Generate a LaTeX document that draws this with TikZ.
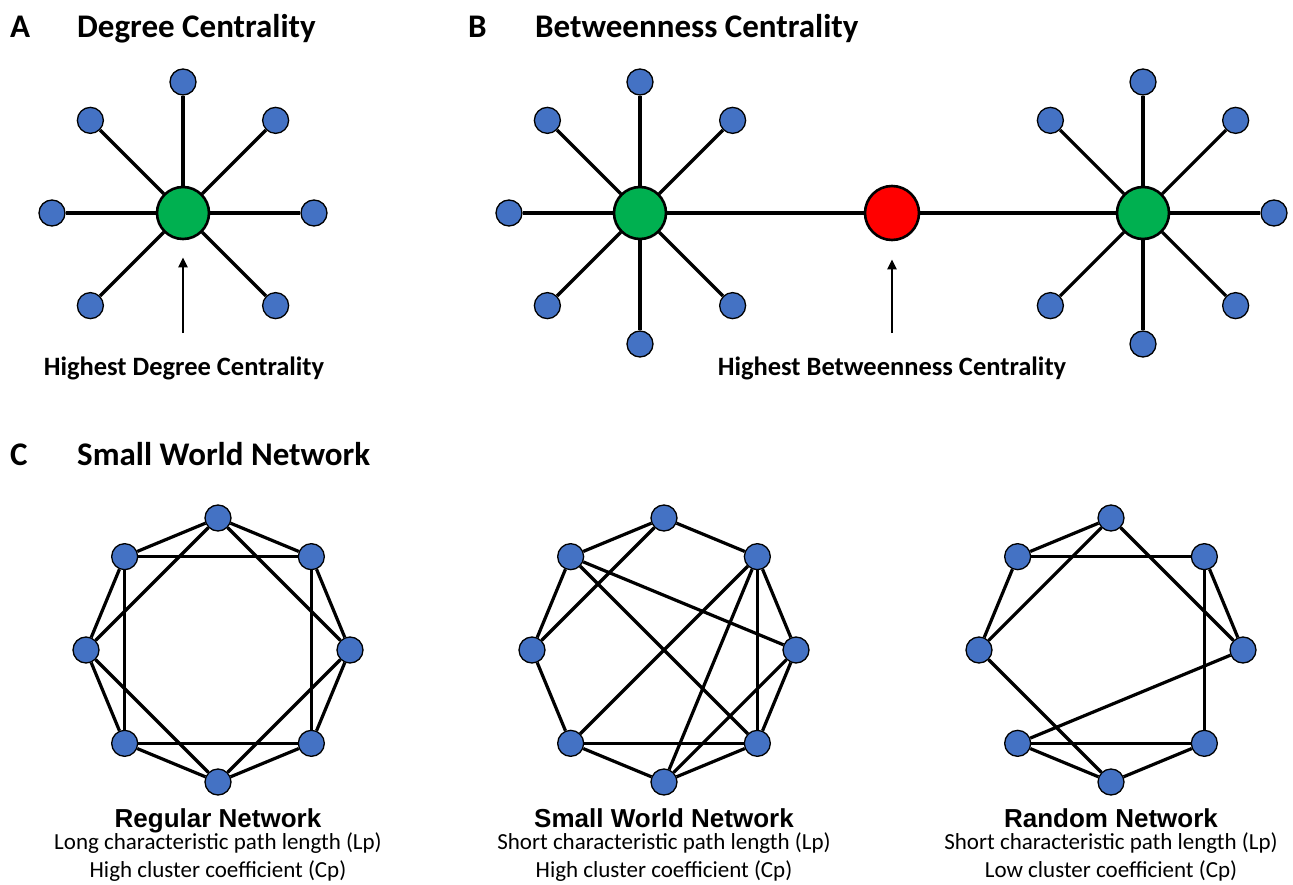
\documentclass[tikz,border=0pt]{standalone}
\usepackage{fontspec}
\setmainfont{Carlito}
\newfontfamily\arialfont{Liberation Sans}
\usetikzlibrary{arrows.meta}
\definecolor{nodeblue}{HTML}{4472C4}
\definecolor{hubgreen}{HTML}{00B050}
\definecolor{bridgered}{HTML}{FF0000}

\begin{document}
\begin{tikzpicture}[x=1pt,y=-1pt,
    leaf/.style={circle,draw,line width=1.3pt,fill=nodeblue,minimum size=26pt,inner sep=0pt},
    hub/.style={circle,draw,line width=2.6pt,fill=hubgreen,minimum size=52pt,inner sep=0pt},
    bridge/.style={hub,fill=bridgered,minimum size=54pt},
    link/.style={line width=3.2pt},
    pointer/.style={line width=2.4pt,-{Triangle[length=10pt,width=9pt]}},
    panel/.style={font=\fontsize{33}{36}\selectfont\bfseries,anchor=base west,inner sep=0pt},
    note/.style={font=\fontsize{26.5}{30}\selectfont\bfseries,anchor=base,inner sep=0pt},
    nettitle/.style={font=\arialfont\fontsize{26}{30}\selectfont\bfseries,anchor=base,inner sep=0pt},
    netnote/.style={font=\fontsize{23}{26}\selectfont,anchor=base,inner sep=0pt}]
  \useasboundingbox (0,0) rectangle (1293,885);

  % A: degree centrality
  \node[panel] (labA) at (10,38) {A};
  \node[panel] (titA) at (77,38) {Degree Centrality};
  \node[hub] (hubA) at (183,213) {};
  \foreach \n/\a in {t/90,tr/45,r/0,br/-45,bl/-135,l/180,tl/135}{
    \node[leaf] (a\n) at ([shift={(-\a:131)}]hubA) {};
    \draw[link] (hubA) -- (a\n);
  }
  \coordinate (tailA) at (183,333);
  \draw[pointer,shorten >=17pt] (tailA) -- (hubA);
  \node[note] (noteA) at (184,375) {Highest Degree Centrality};

  % B: betweenness centrality
  \node[panel] (labB) at (468,38) {B};
  \node[panel] (titB) at (535,38) {Betweenness Centrality};
  \node[hub] (hubL) at (640,213) {};
  \node[bridge] (mid) at (892,213) {};
  \node[hub] (hubR) at (1143,213) {};
  \draw[link] (hubL) -- (mid) -- (hubR);
  \foreach \n/\a in {t/90,tr/45,br/-45,b/-90,bl/-135,l/180,tl/135}{
    \node[leaf] (bl\n) at ([shift={(-\a:131)}]hubL) {};
    \draw[link] (hubL) -- (bl\n);
  }
  \foreach \n/\a in {t/90,tr/45,r/0,br/-45,b/-90,bl/-135,tl/135}{
    \node[leaf] (br\n) at ([shift={(-\a:131)}]hubR) {};
    \draw[link] (hubR) -- (br\n);
  }
  \coordinate (tailB) at (892,333);
  \draw[pointer,shorten >=18pt] (tailB) -- (mid);
  \node[note] (noteB) at (892,375) {Highest Betweenness Centrality};

  % C: small world network
  \node[panel] (labC) at (10,465) {C};
  \node[panel] (titC) at (77,465) {Small World Network};
  \foreach \net/\cx in {reg/218,sw/664,rnd/1111}
    \foreach \k in {0,...,7}
      \node[leaf] (\net\k) at ([shift={({45*\k-90}:132)}]\cx,650) {};

  % regular ring lattice
  \foreach \k [evaluate=\k as \m using {int(mod(\k+1,8))},
               evaluate=\k as \s using {int(mod(\k+2,8))}] in {0,...,7}{
    \draw[link] (reg\k) -- (reg\m);
    \draw[link] (reg\k) -- (reg\s);
  }
  % rewired
  \foreach \i/\j in {0/1,1/2,2/3,3/4,4/5,5/6,6/7,7/0,0/6,7/2,7/3,1/5,1/4,1/3,5/3,4/2}
    \draw[link] (sw\i) -- (sw\j);
  % random
  \foreach \i/\j in {0/7,0/6,0/2,7/1,7/6,1/2,1/3,6/4,2/5,5/3,5/4,4/3}
    \draw[link] (rnd\i) -- (rnd\j);

  \node[nettitle] (regT) at (218,827) {Regular Network};
  \node[netnote] (regL) at (218,849) {Long characteristic path length (Lp)};
  \node[netnote] (regC) at (218,877) {High cluster coefficient (Cp)};
  \node[nettitle] (swT) at (664,827) {Small World Network};
  \node[netnote] (swL) at (664,849) {Short characteristic path length (Lp)};
  \node[netnote] (swC) at (664,877) {High cluster coefficient (Cp)};
  \node[nettitle] (rndT) at (1111,827) {Random Network};
  \node[netnote] (rndL) at (1111,849) {Short characteristic path length (Lp)};
  \node[netnote] (rndC) at (1111,877) {Low cluster coefficient (Cp)};
\end{tikzpicture}
\end{document}
